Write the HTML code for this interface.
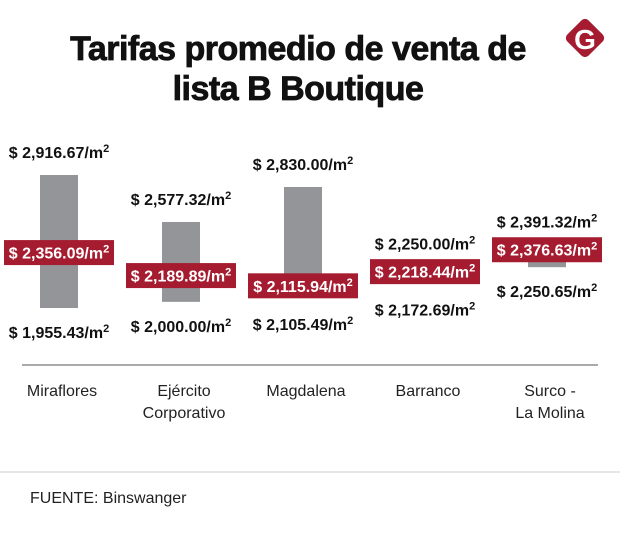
<!DOCTYPE html>
<html><head><meta charset="utf-8"><style>
body{margin:0;background:#fff;font-family:"Liberation Sans",sans-serif;}
svg{display:block}
</style></head><body>
<svg id="chart" width="620" height="538">
  <text x="298" y="60" text-anchor="middle" font-size="34" font-weight="bold" fill="#111" stroke="#111" stroke-width="0.8" letter-spacing="-0.5">Tarifas promedio de venta de</text>
  <text x="298" y="100" text-anchor="middle" font-size="34" font-weight="bold" fill="#111" stroke="#111" stroke-width="0.8" letter-spacing="-0.5">lista B Boutique</text>
  <g>
    <rect x="570" y="23" width="30" height="30" rx="5" fill="#a51c30" transform="rotate(45 585 38)"/>
    <text x="585" y="49" text-anchor="middle" font-size="28" font-weight="bold" fill="#fff">G</text>
  </g>
  <line x1="22" y1="365" x2="598" y2="365" stroke="#555" stroke-width="1"/>
  <line x1="0" y1="472" x2="620" y2="472" stroke="#ccc" stroke-width="1"/>
  <text x="30" y="503" font-size="16" fill="#222">FUENTE: Binswanger</text>
  <g id="marks"></g>
</svg>
<script>
const categories = [["Miraflores"],["Ejército","Corporativo"],["Magdalena"],["Barranco"],["Surco -","La Molina"]];
const maxValues = [2916.67, 2577.32, 2830.00, 2250.00, 2391.32];
const minValues = [1955.43, 2000.00, 2105.49, 2172.69, 2250.65];
const avgValues = [2356.09, 2189.89, 2115.94, 2218.44, 2376.63];
const maxLabels = ["2,916.67","2,577.32","2,830.00","2,250.00","2,391.32"];
const minLabels = ["1,955.43","2,000.00","2,105.49","2,172.69","2,250.65"];
const avgLabels = ["2,356.09","2,189.89","2,115.94","2,218.44","2,376.63"];

const NS = "http://www.w3.org/2000/svg";
const g = document.getElementById("marks");
const yScale = v => 175 + (2916.67 - v) * 0.1384;
const xScale = i => 59 + i * 122;
function mk(tag, attrs){const e=document.createElementNS(NS,tag);for(const k in attrs)e.setAttribute(k,attrs[k]);g.appendChild(e);return e;}
function label(x,y,txt,color){
  const t=mk("text",{x:x,y:y,"text-anchor":"middle","font-size":"16","font-weight":"bold",fill:color});
  t.innerHTML='$ '+txt+'/m<tspan font-size="11" dy="-6">2</tspan>';
  return t;
}
categories.forEach((c,i)=>{
  const cx=xScale(i), yt=yScale(maxValues[i]), yb=yScale(minValues[i]), ya=yScale(avgValues[i]);
  const bar=mk("rect",{x:cx-19,y:yt,width:38,height:Math.max(1,yb-yt),fill:"#939598"});
  
  
  const tl=label(cx,Math.min(yt-17,ya-22),maxLabels[i],"#111");
  
  
  const bl=label(cx,Math.max(yb+30,ya+44),minLabels[i],"#111");
  
  
  const box=mk("rect",{x:cx-55,y:ya-12.5,width:110,height:25,fill:"#a51c30"});
  
  
  const al=label(cx,ya+6,avgLabels[i],"#fff");
  
  
  c.forEach((line,j)=>{
    const t=mk("text",{x:cx+3,y:396+j*22,"text-anchor":"middle","font-size":"16",fill:"#222"});
    t.textContent=line;
    
    
  });
});
</script>
</body></html>
